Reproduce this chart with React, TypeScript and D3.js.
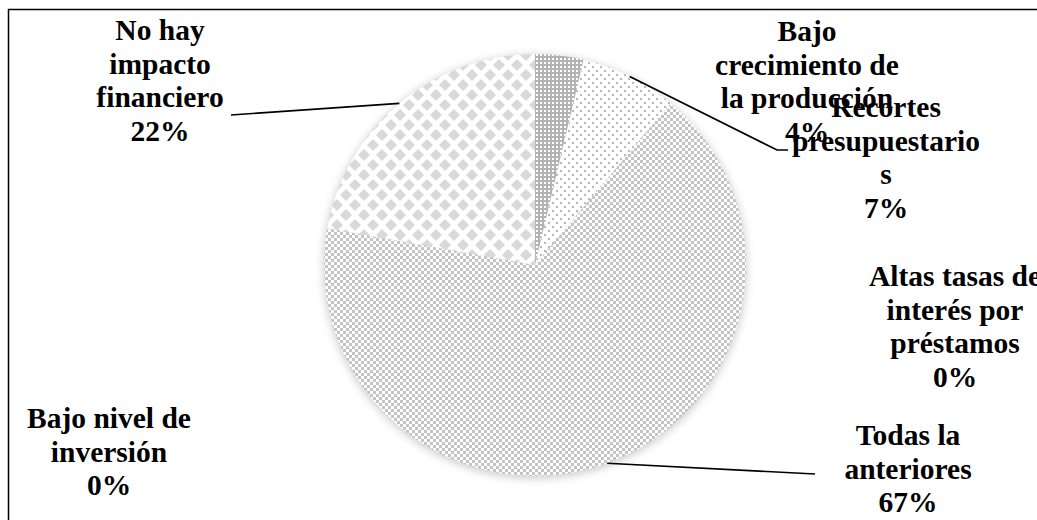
import React from "react";
import * as d3 from "d3";

const categories = [
  "Bajo crecimiento de la producción",
  "Recortes presupuestarios",
  "Altas tasas de interés por préstamos",
  "Todas la anteriores",
  "Bajo nivel de inversión",
  "No hay impacto financiero",
];
const counts = [1, 2, 0, 18, 0, 6];
const labelLines = [
  ["Bajo", "crecimiento de", "la producción"],
  ["Recortes", "presupuestario", "s"],
  ["Altas tasas de", "interés por", "préstamos"],
  ["Todas la", "anteriores"],
  ["Bajo nivel de", "inversión"],
  ["No hay", "impacto", "financiero"],
];
const patternIds = ["pDense", "pSparse", "pChecker", "pChecker", "pChecker", "pDiamond"];

// layout (label center x, first baseline y)
const labelLayout = [
  { x: 807, y: 41 },
  { x: 886, y: 117 },
  { x: 955, y: 286 },
  { x: 908, y: 445 },
  { x: 109, y: 428 },
  { x: 160, y: 40 },
];
// leader line end points (label side), null = no leader
const leaderEnds: ([number, number][] | null)[] = [
  null,
  [[777, 150], [788, 150]],
  null,
  [[815, 474]],
  null,
  [[231, 115]],
];

const W = 1037;
const H = 520;
const cx = 535;
const cy = 265;
const R = 211;
const LH = 33.5;

export default function App() {
  const total = d3.sum(counts);
  const pie = d3.pie<number>().sort(null).value((d) => d).startAngle(0).endAngle(2 * Math.PI);
  const arcs = pie(counts);
  const arc = d3.arc<d3.PieArcDatum<number>>().innerRadius(0).outerRadius(R);
  const edge = d3.arc<d3.PieArcDatum<number>>().innerRadius(R).outerRadius(R);
  const line = d3.line();

  return (
    <svg
      width={W}
      height={H}
      style={{ position: "fixed", left: 0, top: 0, background: "#fff" }}
    >
      <defs>
        <pattern id="pDense" width="4" height="4" patternUnits="userSpaceOnUse">
          <rect width="4" height="4" fill="#b3b3b3" />
          <rect x="1" y="1" width="2" height="2" fill="#ffffff" />
        </pattern>
        <pattern id="pSparse" width="8" height="8" patternUnits="userSpaceOnUse">
          <rect width="8" height="8" fill="#ffffff" />
          <rect x="1" y="1" width="2" height="2" fill="#b8b8b8" />
          <rect x="5" y="5" width="2" height="2" fill="#b8b8b8" />
        </pattern>
        <pattern id="pChecker" width="6" height="6" patternUnits="userSpaceOnUse">
          <rect width="6" height="6" fill="#ffffff" />
          <rect x="0" y="0" width="3" height="3" fill="#c4c4c4" />
          <rect x="3" y="3" width="3" height="3" fill="#c4c4c4" />
        </pattern>
        <pattern id="pDiamond" width="18" height="20" patternUnits="userSpaceOnUse">
          <rect width="18" height="20" fill="#ffffff" />
          <polygon points="9,4 15,10 9,16 3,10" fill="#d9d9d9" />
          <polygon points="0,-6 6,0 0,6 -6,0" fill="#d9d9d9" />
          <polygon points="18,-6 24,0 18,6 12,0" fill="#d9d9d9" />
          <polygon points="0,14 6,20 0,26 -6,20" fill="#d9d9d9" />
          <polygon points="18,14 24,20 18,26 12,20" fill="#d9d9d9" />
        </pattern>
        <filter id="shadow" x="-20%" y="-20%" width="140%" height="140%">
          <feGaussianBlur stdDeviation="5" />
        </filter>
      </defs>

      <rect x={8.5} y={9.5} width={1100} height={600} fill="#fff" stroke="#000" strokeWidth={1.5} />

      <circle cx={cx} cy={cy + 2} r={R} fill="#9a9a9a" opacity={0.55} filter="url(#shadow)" />

      <g transform={`translate(${cx},${cy})`}>
        {arcs.map((a, i) =>
          a.value > 0 ? (
            <path key={categories[i]} d={arc(a) || ""} fill={`url(#${patternIds[i]})`} />
          ) : null
        )}
      </g>

      {arcs.map((a, i) => {
        const ends = leaderEnds[i];
        if (!ends) return null;
        const [ex, ey] = edge.centroid(a);
        const pts: [number, number][] = [[cx + ex, cy + ey], ...ends];
        return (
          <path key={"l" + i} d={line(pts) || ""} fill="none" stroke="#000" strokeWidth={1.6} />
        );
      })}

      {arcs.map((a, i) => {
        const lay = labelLayout[i];
        const pct = Math.round((a.value / total) * 100) + "%";
        const lines = [...labelLines[i], pct];
        return (
          <text
            key={"t" + i}
            x={lay.x}
            y={lay.y}
            textAnchor="middle"
            fontFamily="'Liberation Serif', 'Times New Roman', serif"
            fontWeight="bold"
            fontSize={29.5}
            fill="#000"
          >
            {lines.map((s, j) => (
              <tspan key={j} x={lay.x} y={lay.y + j * LH}>
                {s}
              </tspan>
            ))}
          </text>
        );
      })}
    </svg>
  );
}
